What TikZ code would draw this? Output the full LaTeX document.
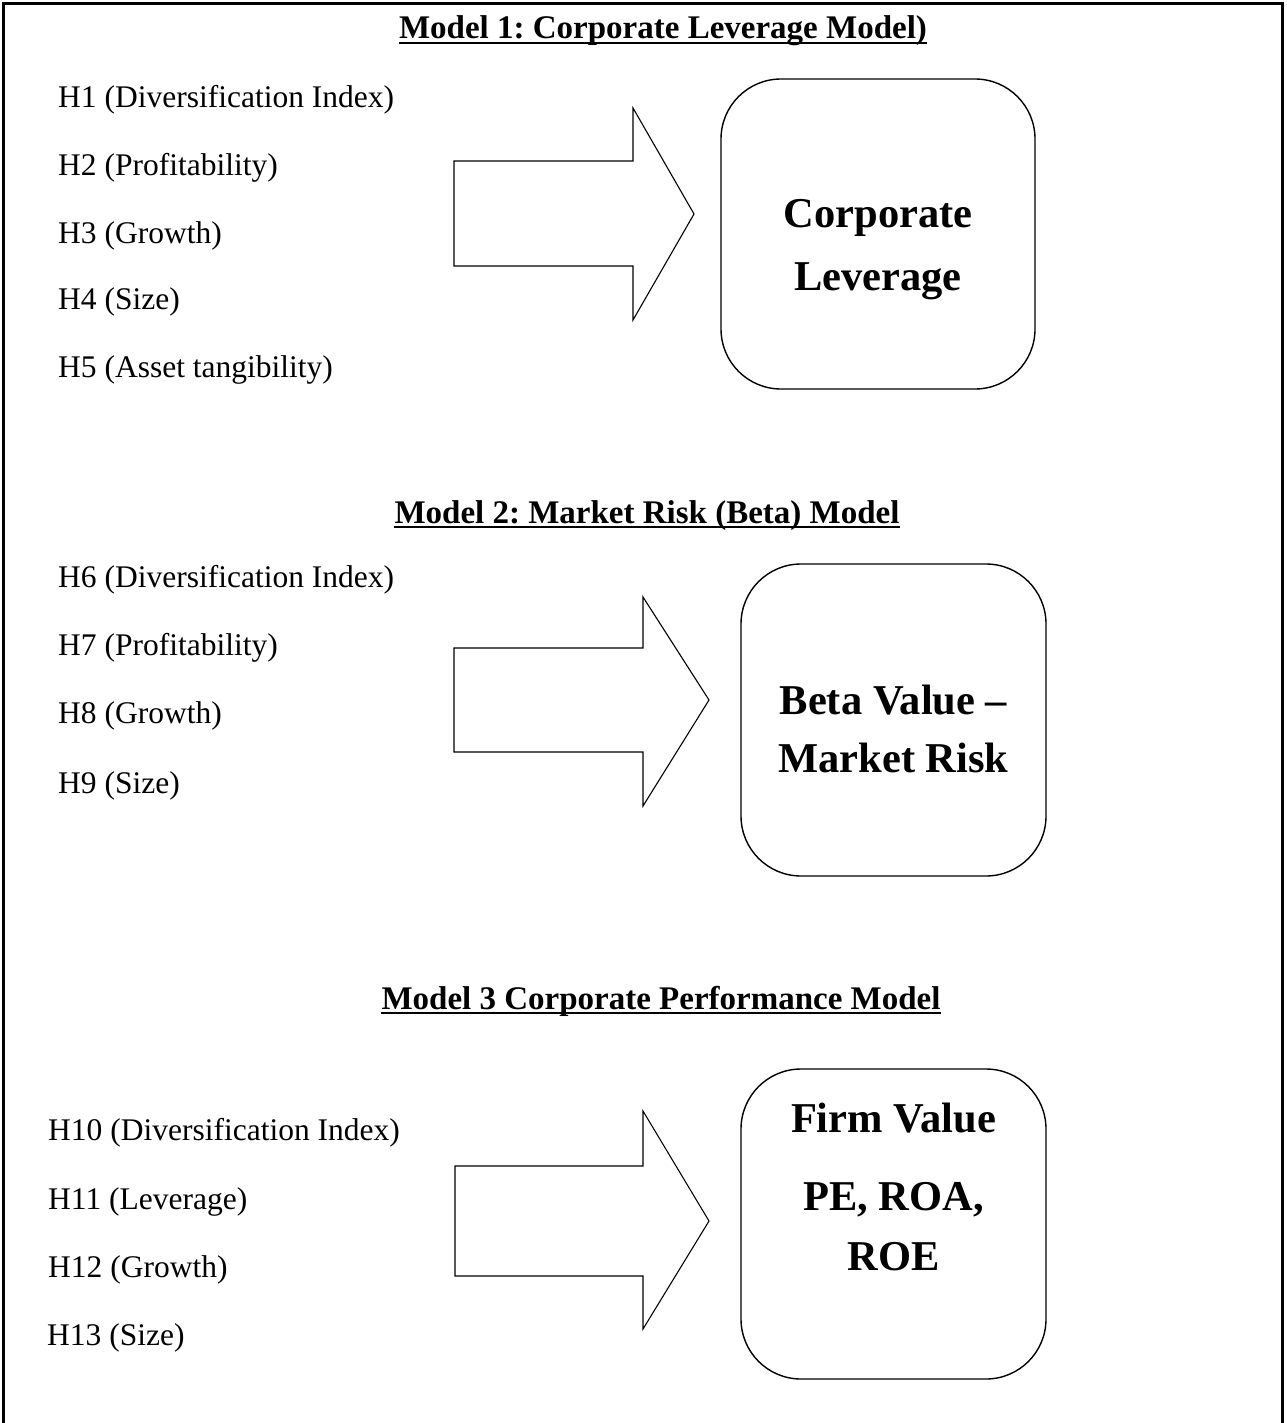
\documentclass[tikz,border=0pt]{standalone}
\usepackage{fontspec}
\setmainfont{Liberation Serif}
\frenchspacing
\begin{document}
\begin{tikzpicture}[x=1pt,y=-1pt,
  hyp/.style={anchor=west,inner sep=0pt,font=\fontsize{31.5}{36}\selectfont},
  ttl/.style={anchor=base,inner sep=0pt,font=\fontsize{33}{38}\selectfont\bfseries},
  big/.style={anchor=base,inner sep=0pt,font=\fontsize{42.5}{48}\selectfont\bfseries},
  rbox/.style={draw,line width=1.4pt,rounded corners=60pt,inner sep=0pt},
  fat/.style={draw,line width=1.1pt,line join=miter},
  uline/.style={line width=2.4pt}]
\useasboundingbox (0,0) rectangle (1286,1423);
% frame
\draw[line width=3pt] (3.5,1423) -- (3.5,3.5) -- (1282.5,3.5) -- (1282.5,1423);
% Model 1
\node[ttl] (t1) at (663,39) {Model 1: Corporate Leverage Model)};
\draw[uline] ([yshift=-4pt]t1.base west) -- ([yshift=-4pt]t1.base east);
\node[hyp] (h1) at (58,100) {H1 (Diversification Index)};
\node[hyp] (h2) at (58,168) {H2 (Profitability)};
\node[hyp] (h3) at (58,236) {H3 (Growth)};
\node[hyp] (h4) at (58,302) {H4 (Size)};
\node[hyp] (h5) at (58,370) {H5 (Asset tangibility)};
\draw[fat] (454,161) -- (633,161) -- (633,108) -- (694,214) -- (633,320) -- (633,266) -- (454,266) -- cycle;
\node[rbox,minimum width=314pt,minimum height=310pt] (b1) at (878,234) {};
\node[big] (c1a) at (878,228) {Corporate};
\node[big] (c1b) at (878,290) {Leverage};
% Model 2
\node[ttl] (t2) at (647,523) {Model 2: Market Risk (Beta) Model};
\draw[uline] ([yshift=-4pt]t2.base west) -- ([yshift=-4pt]t2.base east);
\node[hyp] (h6) at (58,580) {H6 (Diversification Index)};
\node[hyp] (h7) at (58,648) {H7 (Profitability)};
\node[hyp] (h8) at (58,716) {H8 (Growth)};
\node[hyp] (h9) at (58,786) {H9 (Size)};
\draw[fat] (454,648) -- (643,648) -- (643,597) -- (709,700) -- (643,806) -- (643,752) -- (454,752) -- cycle;
\node[rbox,minimum width=305pt,minimum height=312pt] (b2) at (893.5,720) {};
\node[big] (c2a) at (893.5,714) {Beta Value --};
\node[big] (c2b) at (893.5,772) {Market Risk};
% Model 3
\node[ttl] (t3) at (661,1009) {Model 3 Corporate Performance Model};
\draw[uline] ([yshift=-4pt]t3.base west) -- ([yshift=-4pt]t3.base east);
\node[hyp] (h10) at (48,1133) {H10 (Diversification Index)};
\node[hyp] (h11) at (48,1202) {H11 (Leverage)};
\node[hyp] (h12) at (48,1270) {H12 (Growth)};
\node[hyp] (h13) at (47,1338) {H13 (Size)};
\draw[fat] (455,1166) -- (643,1166) -- (643,1111) -- (709,1221) -- (643,1329) -- (643,1276) -- (455,1276) -- cycle;
\node[rbox,minimum width=305pt,minimum height=310pt] (b3) at (893.5,1224) {};
\node[big] (c3a) at (893.5,1132) {Firm Value};
\node[big] (c3b) at (893.5,1210) {PE, ROA,};
\node[big] (c3c) at (893.5,1270) {ROE};
\end{tikzpicture}
\end{document}
